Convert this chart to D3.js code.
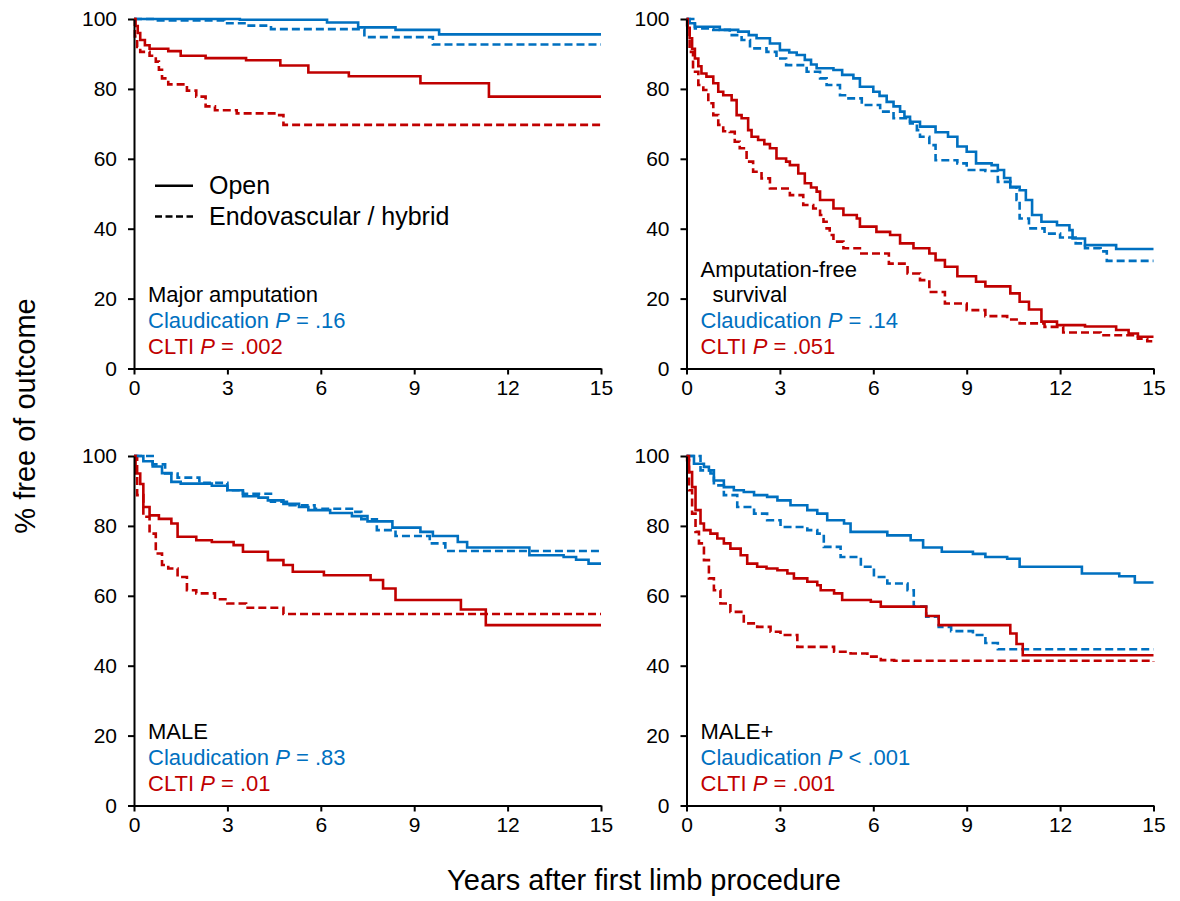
<!DOCTYPE html>
<html>
<head>
<meta charset="utf-8">
<script src="https://cdn.jsdelivr.net/npm/d3@7"></script>
<style>
  html, body { margin: 0; padding: 0; background: #fff; }
  svg { display: block; font-family: "Liberation Sans", Arial, sans-serif; }
</style>
</head>
<body>
<div id="chart"></div>
<script>
// ---- data: [years, % free of outcome] ----
const yearTicks = [0, 3, 6, 9, 12, 15];
const pctTicks = [0, 20, 40, 60, 80, 100];

// Major amputation
const ampClaudOpen = [[0,100],[3.4,99.8],[6.2,99.0],[7.2,97.6],[8.4,96.9],[9.8,95.6],[15,95.6]];
const ampClaudEndo = [[0,100],[0.7,99.6],[2.9,98.8],[3.6,98.1],[4.4,97.1],[7.4,94.8],[9.6,92.7],[15,92.7]];
const ampCltiOpen = [[0,100],[0.05,98],[0.12,96],[0.2,94],[0.35,92.5],[0.5,91.5],[1.1,90.8],[1.5,89.5],[2.3,88.8],[3.6,88.2],[4.7,86.7],[5.6,84.7],[6.9,83.6],[9.2,81.6],[11.4,77.8],[15,77.8]];
const ampCltiEndo = [[0,100],[0.03,95],[0.1,92],[0.2,90.6],[0.5,89.5],[0.7,87.8],[0.8,85.5],[0.9,83],[1.1,81.3],[1.7,79.5],[2.0,77.8],[2.3,75],[2.6,73.9],[3.3,73],[4.6,72.5],[4.8,69.7],[15,69.7]];

// Amputation-free survival
const afsClaudOpen = [[0,100],[0.1,98.8],[0.27,97.8],[1.07,96.9],[1.66,96.4],[2.0,95.4],[2.25,94.5],[2.68,93],[3.0,91.1],[3.3,90.4],[3.54,89.7],[3.8,88.3],[4.0,87],[4.18,85.9],[4.72,85.4],[5.0,84],[5.36,83],[5.57,80.6],[6.0,79.2],[6.2,78],[6.43,76.3],[6.65,75],[6.86,73.5],[7.0,72],[7.18,70.6],[7.5,69.2],[8.0,67.6],[8.4,66.3],[8.7,63.5],[9.0,62],[9.3,58.7],[9.8,58.2],[10.0,56.8],[10.2,54.5],[10.4,52],[10.7,51],[10.9,48.2],[11.1,43.9],[11.4,42],[11.9,41],[12.3,39.6],[12.4,37.2],[12.8,35.3],[13.8,34.2],[15,34.2]];
const afsClaudEndo = [[0,100],[0.27,97.3],[0.86,96.9],[1.39,95.4],[1.77,94],[2.04,91.6],[2.57,90.6],[2.89,88.7],[3.2,86.8],[3.86,84.9],[4.29,83],[4.5,81.1],[4.93,78.2],[5.14,77.3],[5.63,75.4],[6.22,73.5],[6.65,71.6],[7.18,70.1],[7.4,68.2],[7.5,66.3],[7.8,63.9],[8.0,59.6],[8.7,58.7],[9.0,56.8],[9.6,56.5],[10.0,53.4],[10.4,51.8],[10.6,48.2],[10.7,42.9],[11.0,40.1],[11.5,38.6],[12.0,37.5],[12.5,35.8],[12.8,34.4],[13.3,33.5],[13.5,30.8],[15,30.8]];
const afsCltiOpen = [[0,100],[0.04,97.5],[0.1,94.5],[0.18,91.5],[0.27,88.7],[0.38,86.5],[0.48,84.4],[0.64,83.5],[0.86,81.6],[1.02,79.2],[1.18,78.2],[1.45,76.8],[1.61,72.5],[1.77,71.6],[1.98,68.2],[2.09,66.3],[2.3,65.4],[2.5,64.2],[2.68,63],[2.89,60.1],[3.2,59.2],[3.32,58.2],[3.59,55.8],[3.8,53],[4.0,51.8],[4.18,50.6],[4.29,48.2],[4.72,45.8],[5.04,43.9],[5.47,42.9],[5.57,40.6],[6.1,39.1],[6.54,38.2],[6.86,35.8],[7.29,34.4],[7.8,32.9],[8.0,31],[8.3,29.1],[8.7,26.4],[9.3,24.8],[9.6,23.5],[10.4,21.5],[10.7,19.1],[11.0,16.9],[11.4,13.4],[11.9,12.4],[12.8,12],[13.8,11],[14.2,10],[14.5,9.1],[15,9.1]];
const afsCltiEndo = [[0,100],[0.02,97.3],[0.1,90.6],[0.21,84.9],[0.38,81.1],[0.54,79.7],[0.7,75.9],[0.86,72.5],[1.02,69.7],[1.18,67.9],[1.39,67.7],[1.55,64.9],[1.71,63],[1.93,59.2],[2.14,56.3],[2.41,54.4],[2.68,51.5],[3.2,51.5],[3.32,49.6],[3.75,46.8],[4.07,45.8],[4.29,43.9],[4.4,42],[4.5,40.1],[4.6,38.2],[4.72,36.3],[5.04,34.4],[5.57,32.9],[6.5,30],[7.1,27.2],[7.5,25.3],[7.8,21.9],[8.3,18.6],[9.0,16.7],[9.6,15],[10.3,14],[10.7,12.9],[11.5,11.9],[12.1,10.3],[13.3,9.5],[14.5,8.5],[14.8,7.8],[15,7.8]];

// MALE
const maleClaudOpen = [[0,100],[0.3,98.5],[0.6,97],[0.9,95.1],[1.2,92.6],[1.5,92.1],[2.5,91.5],[3.0,90.2],[3.5,88.5],[4.0,88.1],[4.3,87.3],[4.8,86.3],[5.3,85.4],[5.6,84.5],[6.3,83.7],[7.0,82.8],[7.5,81.3],[8.3,79.5],[9.2,78.3],[9.6,77.1],[10.4,75.4],[10.7,73.8],[12.7,71.6],[13.8,71.1],[14.2,70.3],[14.6,69.2],[15,69.2]];
const maleClaudEndo = [[0,100],[0.6,97.6],[1.0,95],[1.4,93.8],[2.1,92.3],[3.0,90.2],[3.5,89.2],[4.4,86.9],[5.0,85.9],[5.8,84.9],[7.0,84],[7.3,81.9],[7.8,78.8],[8.4,77.1],[9.5,75],[10.0,72.8],[15,72.8]];
const maleCltiOpen = [[0,100],[0.05,95],[0.2,92],[0.3,85.4],[0.5,83],[0.8,82],[1.2,80.7],[1.4,76.9],[2.0,75.9],[2.5,75.4],[3.2,74.5],[3.5,72.6],[4.3,70.2],[4.8,68.8],[5.1,66.9],[6.1,65.9],[7.6,64.5],[8.0,62.1],[8.4,58.8],[10.5,56.1],[11.3,51.6],[15,51.6]];
const maleCltiEndo = [[0,100],[0.1,88.8],[0.3,82.6],[0.5,77.8],[0.7,72.1],[0.9,68.8],[1.1,67.8],[1.4,65.4],[1.7,61.6],[2.0,60.7],[2.6,59],[3.0,57.8],[3.6,56.6],[4.8,54.8],[15,54.8]];

// MALE+
const malePlusClaudOpen = [[0,100],[0.24,97.8],[0.56,96.9],[0.72,95.9],[0.88,93],[1.2,91.1],[1.52,90.2],[1.84,89.7],[2.17,88.8],[2.59,88.3],[2.92,87.3],[3.34,85.9],[3.88,84.5],[4.2,83.5],[4.52,81.6],[5.06,80.7],[5.27,78.3],[6.45,77.3],[7.2,75.9],[7.6,73.8],[8.2,72.6],[9.2,72],[9.6,71.1],[10.3,70.6],[10.7,68.3],[12.7,66.4],[13.9,65.6],[14.4,63.8],[15,63.8]];
const malePlusClaudEndo = [[0,100],[0.45,95.9],[0.77,95],[0.88,91.6],[1.2,88.8],[1.63,85.4],[2.17,83.5],[2.59,81.6],[3.02,79.7],[3.88,78.8],[4.2,77.8],[4.41,74],[4.95,71.1],[5.6,68.3],[6.02,65.4],[6.45,63.5],[7.1,61.6],[7.3,56.9],[7.7,54],[8.1,51.1],[8.5,49.9],[9.2,48.8],[9.6,46.5],[10.0,44.7],[15,44.7]];
const malePlusCltiOpen = [[0,100],[0.08,95.4],[0.18,91.1],[0.29,84.5],[0.45,80.7],[0.56,78.8],[0.77,77.8],[0.99,76.4],[1.2,75],[1.41,73.5],[1.74,71.6],[1.95,69.2],[2.27,68.3],[2.57,67.8],[2.92,67.3],[3.24,66.4],[3.45,65],[3.88,64],[4.2,63],[4.31,61.6],[4.74,60.7],[5.0,58.8],[5.92,58.3],[6.24,56.9],[7.7,54.2],[8.1,51.6],[10.4,49.2],[10.6,46.2],[10.8,43],[15,43]];
const malePlusCltiEndo = [[0,100],[0.02,98.8],[0.08,90.2],[0.18,83.5],[0.29,78.3],[0.4,75],[0.56,70.2],[0.72,65],[0.88,61.6],[1.09,57.8],[1.41,55.4],[1.84,52.1],[2.27,51.1],[2.7,49.7],[3.02,48.8],[3.56,45.4],[4.74,44],[5.27,43.5],[5.81,42.6],[6.24,41.6],[6.67,41.4],[15,41.2]];

const panelTitles = [["Major amputation"], ["Amputation-free", "survival"], ["MALE"], ["MALE+"]];
const claudPValues = ["= .16", "= .14", "= .83", "< .001"];
const cltiPValues = ["= .002", "= .051", "= .01", "= .001"];

// ---- layout ----
const W = 1180, H = 901;
const BLUE = '#0070C0', RED = '#C00000';
const panelW = 467, panelH = 349.5;
const colX = [134, 686.5];
const rowY = [19, 456];

const panels = [
    { col: 0, row: 0, curves: [ampClaudOpen, ampClaudEndo, ampCltiOpen, ampCltiEndo] },
    { col: 1, row: 0, curves: [afsClaudOpen, afsClaudEndo, afsCltiOpen, afsCltiEndo] },
    { col: 0, row: 1, curves: [maleClaudOpen, maleClaudEndo, maleCltiOpen, maleCltiEndo] },
    { col: 1, row: 1, curves: [malePlusClaudOpen, malePlusClaudEndo, malePlusCltiOpen, malePlusCltiEndo] }
];
// order of curves: claud open, claud endo, clti open, clti endo
const curveStyle = [
    { color: BLUE, dash: null },
    { color: BLUE, dash: '8,4' },
    { color: RED, dash: null },
    { color: RED, dash: '8,4' }
];

const svg = d3.select('#chart')
    .append('svg')
    .attr('width', W)
    .attr('height', H);

panels.forEach((p, i) => {
    const g = svg.append('g')
        .attr('transform', `translate(${colX[p.col]},${rowY[p.row]})`);

    const x = d3.scaleLinear().domain([0, 15]).range([0, panelW]);
    const y = d3.scaleLinear().domain([0, 100]).range([panelH, 0]);

    // curves (Kaplan-Meier steps)
    const line = d3.line()
        .x(d => x(d[0]))
        .y(d => y(d[1]))
        .curve(d3.curveStepAfter);

    // draw dashed first, solid on top
    [1, 3, 0, 2].forEach(k => {
        g.append('path')
            .datum(p.curves[k])
            .attr('fill', 'none')
            .attr('stroke', curveStyle[k].color)
            .attr('stroke-width', 2.6)
            .attr('stroke-dasharray', curveStyle[k].dash)
            .attr('d', line);
    });

    // axes
    const xAxis = g.append('g')
        .attr('transform', `translate(0,${panelH})`)
        .call(d3.axisBottom(x).tickValues(yearTicks).tickSize(6).tickSizeOuter(0).tickPadding(6));
    const yAxis = g.append('g')
        .call(d3.axisLeft(y).tickValues(pctTicks).tickSize(6).tickSizeOuter(0).tickPadding(11));

    [xAxis, yAxis].forEach(a => {
        a.select('.domain').attr('stroke', '#000').attr('stroke-width', 2);
        a.selectAll('.tick line').attr('stroke', '#000').attr('stroke-width', 2);
        a.selectAll('.tick text')
            .attr('fill', '#000')
            .style('font-size', '21px')
            .style('font-family', '"Liberation Sans", Arial, sans-serif');
    });

    // panel label + P values
    const title = panelTitles[i];
    const base = panelH - 67;
    title.forEach((t, j) => {
        g.append('text')
            .attr('x', j === 0 ? 14 : 26)
            .attr('y', base - (title.length - 1 - j) * 25)
            .attr('fill', '#000')
            .style('font-size', '22px')
            .text(t);
    });

    const claud = g.append('text')
        .attr('x', 14)
        .attr('y', base + 26)
        .attr('fill', BLUE)
        .style('font-size', '22px');
    claud.append('tspan').text('Claudication ');
    claud.append('tspan').style('font-style', 'italic').text('P');
    claud.append('tspan').text(' ' + claudPValues[i]);

    const clti = g.append('text')
        .attr('x', 14)
        .attr('y', base + 52.5)
        .attr('fill', RED)
        .style('font-size', '22px');
    clti.append('tspan').text('CLTI ');
    clti.append('tspan').style('font-style', 'italic').text('P');
    clti.append('tspan').text(' ' + cltiPValues[i]);

    // legend only in the first panel
    if (i === 0) {
        const legend = g.append('g');
        [
            { label: 'Open', dash: null, y: 166.7 },
            { label: 'Endovascular / hybrid', dash: '7,3.5', y: 197.5 }
        ].forEach(item => {
            legend.append('line')
                .attr('x1', 21).attr('x2', 59)
                .attr('y1', item.y).attr('y2', item.y)
                .attr('stroke', '#000')
                .attr('stroke-width', 2.6)
                .attr('stroke-dasharray', item.dash);
            legend.append('text')
                .attr('x', 75)
                .attr('y', item.y + 8.5)
                .attr('fill', '#000')
                .style('font-size', '25px')
                .text(item.label);
        });
    }
});

// shared axis titles
svg.append('text')
    .attr('transform', 'translate(35,416) rotate(-90)')
    .attr('text-anchor', 'middle')
    .attr('fill', '#000')
    .style('font-size', '29px')
    .text('% free of outcome');

svg.append('text')
    .attr('x', 644)
    .attr('y', 890)
    .attr('text-anchor', 'middle')
    .attr('fill', '#000')
    .style('font-size', '29px')
    .text('Years after first limb procedure');
</script>
</body>
</html>
